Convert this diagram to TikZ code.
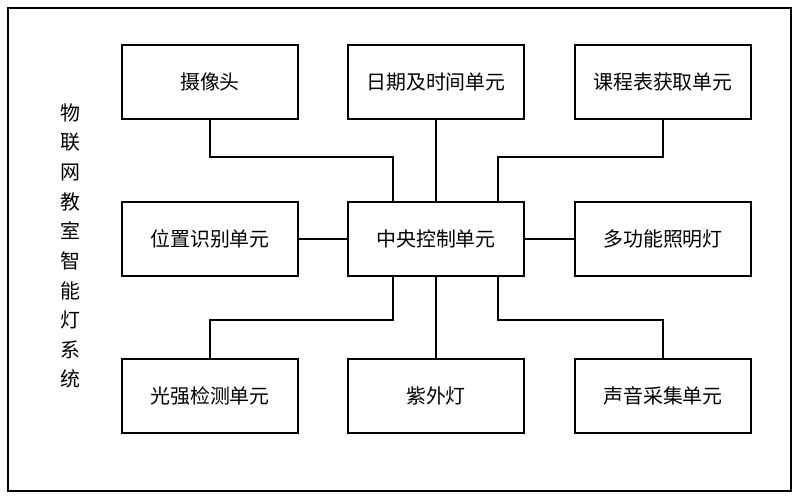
\documentclass[tikz,border=0pt]{standalone}
\usepackage{fontspec}
\setmainfont{Noto Sans CJK SC}
\begin{document}
\begin{tikzpicture}[x=0.03cm,y=-0.03cm,
  box/.style={draw,line width=1.2pt,minimum width=176*0.03cm,minimum height=74*0.03cm,inner sep=0pt,font=\fontsize{17}{19}\selectfont},
  ln/.style={line width=1.2pt}]
\useasboundingbox (0,0) rectangle (799,499);
\draw[line width=1.2pt] (8,8) rectangle (791,491);
\node[box] (cam) at (210,82) {摄像头};
\node[box] (date) at (436,82) {日期及时间单元};
\node[box] (sched) at (663,82) {课程表获取单元};
\node[box] (pos) at (210,239) {位置识别单元};
\node[box] (ctrl) at (436,239) {中央控制单元};
\node[box] (lamp) at (663,239) {多功能照明灯};
\node[box] (light) at (210,396) {光强检测单元};
\node[box] (uv) at (436,396) {紫外灯};
\node[box] (sound) at (663,396) {声音采集单元};
\node[align=center,font=\fontsize{17}{25.3}\selectfont] (title) at (70,246) {物\\联\\网\\教\\室\\智\\能\\灯\\系\\统};
\coordinate (c1) at (393,202); \coordinate (c2) at (498,202);
\coordinate (c3) at (393,276); \coordinate (c4) at (498,276);
\draw[ln] (cam.south) |- (393,157) -- (c1);
\draw[ln] (sched.south) |- (498,157) -- (c2);
\draw[ln] (date) -- (ctrl);
\draw[ln] (pos) -- (ctrl);
\draw[ln] (ctrl) -- (lamp);
\draw[ln] (c3) |- (210,320) -- (light.north);
\draw[ln] (c4) |- (663,320) -- (sound.north);
\draw[ln] (ctrl) -- (uv);
\end{tikzpicture}
\end{document}
